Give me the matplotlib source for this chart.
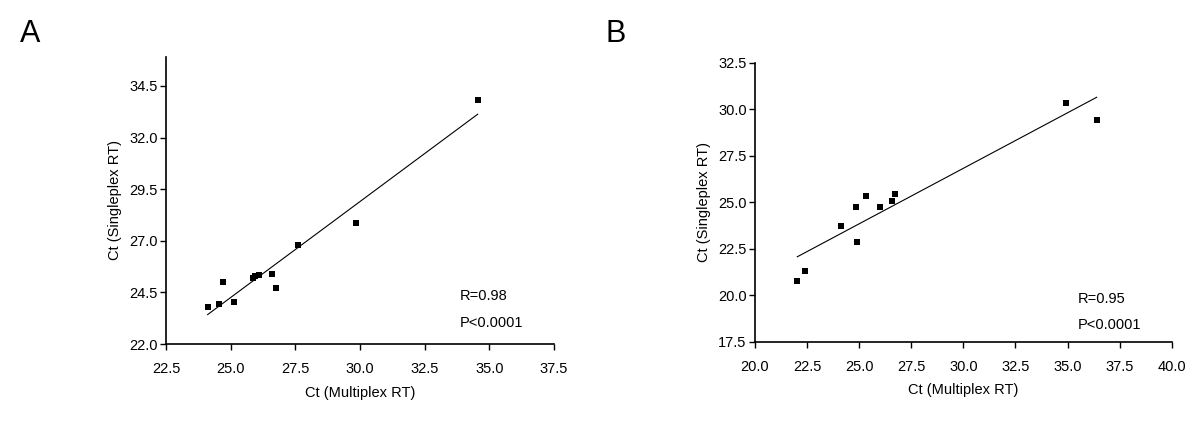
import matplotlib
matplotlib.use("Agg")
import matplotlib.pyplot as plt
import numpy as np

plt.rcParams['font.family'] = ['Liberation Sans', 'DejaVu Sans']

# Panel A: Ct values, multiplex vs singleplex
a_multi = [34.55, 29.83, 27.61, 26.61, 26.75, 26.08, 25.95, 25.88, 24.71, 24.54, 25.11, 24.11]
a_single = [33.84, 27.87, 26.81, 25.40, 24.71, 25.36, 25.30, 25.20, 24.98, 23.94, 24.02, 23.79]

# Panel B
b_multi = [34.93, 36.40, 26.72, 25.31, 26.56, 26.00, 24.83, 24.14, 24.90, 22.38, 22.03]
b_single = [30.36, 29.41, 25.43, 25.34, 25.04, 24.73, 24.73, 23.71, 22.87, 21.30, 20.76]

a_xticks = np.arange(22.5, 37.6, 2.5)
a_yticks = np.arange(22.0, 34.6, 2.5)
b_xticks = np.arange(20.0, 40.1, 2.5)
b_yticks = np.arange(17.5, 32.6, 2.5)

a_stats = ["R=0.98", "P<0.0001"]
b_stats = ["R=0.95", "P<0.0001"]


def draw_panel(ax, x, y, xticks, yticks, ylim, stats, stat_x, stat_y):
    x = np.array(x)
    y = np.array(y)
    ax.plot(x, y, 's', color='black', ms=4.2, mew=0)
    slope, icpt = np.polyfit(x, y, 1)
    xs = np.array([x.min(), x.max()])
    ax.plot(xs, slope * xs + icpt, color='black', lw=0.8)

    ax.set_xlim(xticks[0], xticks[-1])
    ax.set_ylim(*ylim)
    ax.set_xticks(xticks)
    ax.set_yticks(yticks)
    ax.set_xticklabels([f"{v:.1f}" for v in xticks])
    ax.set_yticklabels([f"{v:.1f}" for v in yticks])
    for s in ['top', 'right']:
        ax.spines[s].set_visible(False)
    for s in ['left', 'bottom']:
        ax.spines[s].set_linewidth(1.2)
    ax.tick_params(direction='out', length=4, width=1.0, labelsize=10.5, pad=2)
    ax.tick_params(axis='x', pad=9)
    ax.set_xlabel("Ct (Multiplex RT)", fontsize=10.5, labelpad=7)
    ax.set_ylabel("Ct (Singleplex RT)", fontsize=10.5, labelpad=5)

    ax.text(stat_x, stat_y[0], stats[0], transform=ax.transAxes, fontsize=10.5, va='center')
    ax.text(stat_x, stat_y[1], stats[1], transform=ax.transAxes, fontsize=10.5, va='center')


fig = plt.figure(figsize=(12, 4.25), dpi=100)

ax1 = fig.add_axes([166 / 1200, (425 - 344) / 425, 388 / 1200, 287 / 425])
draw_panel(ax1, a_multi, a_single, a_xticks, a_yticks, (22.0, 35.9), a_stats, 0.757,
           (0.167, 0.074))

ax2 = fig.add_axes([755 / 1200, (425 - 341.7) / 425, 416.7 / 1200, 279 / 425])
draw_panel(ax2, b_multi, b_single, b_xticks, b_yticks, (17.5, 32.5), b_stats, 0.775,
           (0.152, 0.06))

fig.text(20 / 1200, 1 - 34 / 425, "A", fontsize=22, va='center')
fig.text(605 / 1200, 1 - 34 / 425, "B", fontsize=22, va='center')

fig.savefig("out.png", dpi=100, facecolor='white')
